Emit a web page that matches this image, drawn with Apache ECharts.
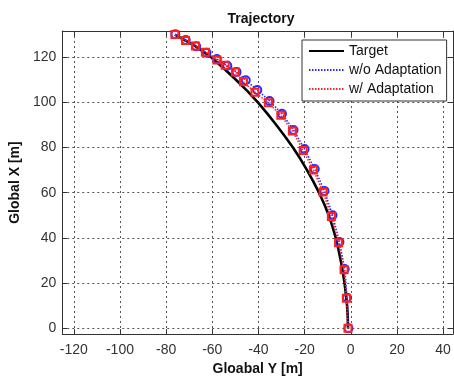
<!DOCTYPE html>
<html>
<head>
<meta charset="utf-8">
<script src="https://cdn.jsdelivr.net/npm/echarts@6/dist/echarts.min.js"></script>
<style>
html,body{margin:0;padding:0;background:#fff;}
#chart{width:454px;height:381px;}
</style>
</head>
<body>
<div id="chart"></div>
<script>
// ---- Data (Global Y [m], Global X [m]) ----
const xTicks = [-120, -100, -80, -60, -40, -20, 0, 20, 40];
const yTicks = [0, 20, 40, 60, 80, 100, 120];

const targetY = [-1.2, -1.3, -1.6, -2.1, -2.7, -3.45, -4.35, -5.35, -6.5, -7.9, -9.55, -11.5, -13.75, -16.25, -18.95, -21.85, -25.05, -28.55, -32.25, -36.15, -40.25, -44.75, -49.75, -54.95, -60.5, -67.5, -76.2];
const targetX = [0, 5, 10, 15, 20, 25, 30, 35, 40, 45, 50, 55, 60, 65, 70, 75, 80, 85, 90, 95, 100, 105, 110, 115, 120, 125, 130];

const woY = [-1.0, -1.6, -2.6, -4.9, -7.9, -11.4, -15.6, -20.0, -24.8, -29.8, -35.2, -40.5, -45.5, -49.5, -53.5, -58.0, -62.5, -67.0, -71.5, -76.0];
const woX = [0, 13.5, 26.2, 38.2, 50.0, 60.8, 70.5, 79.3, 87.8, 95.0, 100.6, 105.5, 109.8, 113.5, 116.2, 119.2, 122.0, 124.8, 127.6, 130.2];

const wY = [-1.2, -1.9, -2.9, -5.3, -8.4, -12.0, -16.2, -20.6, -25.3, -30.3, -35.7, -41.5, -46.5, -50.0, -54.4, -58.0, -63.0, -67.3, -71.6, -76.2];
const wX = [0, 13.3, 25.9, 37.8, 49.5, 60.3, 70.1, 78.7, 87.3, 94.3, 99.8, 104.5, 109.1, 113.5, 116.4, 118.8, 122.2, 125.0, 127.4, 130.0];

const seriesNames = ['Target', 'w/o Adaptation', 'w/ Adaptation'];

function zip(a, b) { return a.map((v, i) => [v, b[i]]); }

const FONT = 'Arial, "Liberation Sans", sans-serif';
const AX = '#333';

const chart = echarts.init(document.getElementById('chart'), null, {renderer: 'canvas'});

const tickCommon = {show: true, inside: true, length: 5, lineStyle: {color: AX, width: 1}};

chart.setOption({
  animation: false,
  backgroundColor: '#fff',
  title: {
    text: 'Trajectory',
    left: 256, top: 7, textAlign: 'center',
    textStyle: {fontFamily: FONT, fontSize: 14, fontWeight: 'bold', color: '#111'}
  },
  grid: {left: 60, right: 1, top: 31, bottom: 38, containLabel: false},
  legend: {
    left: 302, top: 40, orient: 'vertical',
    backgroundColor: '#fff', borderColor: '#333', borderWidth: 1,
    padding: [4, 5, 5, 6], itemGap: 5, itemWidth: 35, itemHeight: 14,
    textStyle: {fontFamily: FONT, fontSize: 14, color: '#111'},
    itemStyle: {opacity: 0},
    data: seriesNames
  },
  xAxis: [{
    type: 'value', min: -125.0, max: 44.3, position: 'bottom',
    name: 'Gloabal Y [m]', nameLocation: 'middle', nameGap: 23,
    nameTextStyle: {fontFamily: FONT, fontSize: 14, fontWeight: 'bold', color: '#111'},
    axisLine: {show: true, onZero: false, lineStyle: {color: AX, width: 1}},
    axisTick: Object.assign({customValues: xTicks}, tickCommon),
    axisLabel: {customValues: xTicks, margin: 9, fontFamily: FONT, fontSize: 14, color: '#333'},
    splitLine: {show: true, lineStyle: {color: '#555', type: [2, 3], width: 1}}
  }, {
    type: 'value', min: -125.0, max: 44.3, position: 'top',
    axisLine: {show: true, onZero: false, lineStyle: {color: AX, width: 1}},
    axisTick: Object.assign({customValues: xTicks}, tickCommon),
    axisLabel: {show: false},
    splitLine: {show: false}
  }],
  yAxis: [{
    type: 'value', min: -2.6, max: 131.6, position: 'left',
    name: 'Global X [m]', nameLocation: 'middle', nameGap: 39, nameRotate: 90,
    nameTextStyle: {fontFamily: FONT, fontSize: 14, fontWeight: 'bold', color: '#111'},
    axisLine: {show: true, onZero: false, lineStyle: {color: AX, width: 1}},
    axisTick: Object.assign({customValues: yTicks}, tickCommon),
    axisLabel: {customValues: yTicks, margin: 6, fontFamily: FONT, fontSize: 14, color: '#333'},
    splitLine: {show: true, lineStyle: {color: '#555', type: [2, 3], width: 1}}
  }, {
    type: 'value', min: -2.6, max: 131.6, position: 'right',
    axisLine: {show: true, onZero: false, lineStyle: {color: AX, width: 1}},
    axisTick: Object.assign({customValues: yTicks}, tickCommon),
    axisLabel: {show: false},
    splitLine: {show: false}
  }],
  series: [{
    name: seriesNames[0], type: 'line', xAxisIndex: 0, yAxisIndex: 0,
    data: zip(targetY, targetX), showSymbol: false, symbol: 'none', smooth: false,
    lineStyle: {color: '#000', width: 2.6, type: 'solid', join: 'round'},
    itemStyle: {color: '#000'}, z: 2
  }, {
    name: seriesNames[1], type: 'line', xAxisIndex: 0, yAxisIndex: 0,
    data: zip(woY, woX), symbol: 'circle', symbolSize: 8, showSymbol: true,
    lineStyle: {color: '#2a2aff', width: 1.6, type: [1.5, 1.5]},
    itemStyle: {color: 'rgba(0,0,0,0)', borderColor: '#2a2aff', borderWidth: 2}, z: 3
  }, {
    name: seriesNames[2], type: 'line', xAxisIndex: 0, yAxisIndex: 0,
    data: zip(wY, wX), symbol: 'rect', symbolSize: 7, showSymbol: true,
    lineStyle: {color: '#ff2020', width: 1.6, type: [1.5, 1.5]},
    itemStyle: {color: 'rgba(0,0,0,0)', borderColor: '#ff2020', borderWidth: 2}, z: 4
  }]
});
</script>
</body>
</html>
